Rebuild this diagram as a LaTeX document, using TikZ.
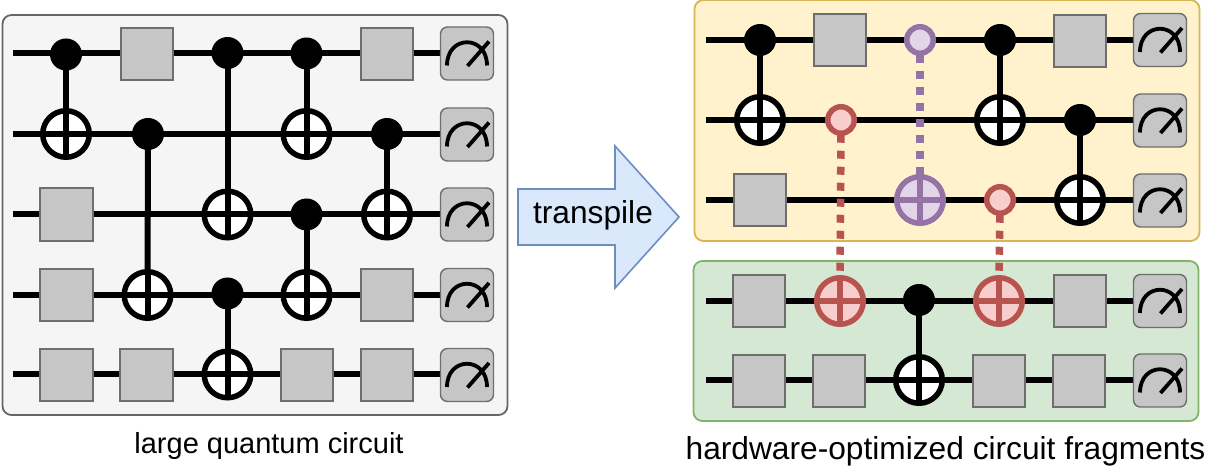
\documentclass[tikz,border=0pt]{standalone}
\usepackage{fontspec}
\setmainfont{Liberation Sans}
\definecolor{gatefill}{HTML}{C6C6C6}
\definecolor{gateline}{HTML}{6E6E6E}
\definecolor{redl}{HTML}{B85450}
\definecolor{redf}{HTML}{F8CECC}
\definecolor{purl}{HTML}{9673A6}
\definecolor{purf}{HTML}{E1D5E7}
\definecolor{yell}{HTML}{D6B656}
\definecolor{yelf}{HTML}{FFF2CC}
\definecolor{grnl}{HTML}{82B366}
\definecolor{grnf}{HTML}{D5E8D4}
\definecolor{blul}{HTML}{6C8EBF}
\definecolor{bluf}{HTML}{DAE8FC}
\definecolor{greyf}{HTML}{F5F5F5}
\definecolor{greyl}{HTML}{666666}
\pgfdeclarelayer{panels}
\pgfdeclarelayer{wires}
\pgfsetlayers{panels,wires,main}
\tikzset{
  x=1pt,y=-1pt,
  gate/.style={rectangle,draw=gateline,fill=gatefill,line width=1.7pt,minimum size=52.5pt,inner sep=0pt,outer sep=0pt},
  meas/.style={rectangle,rounded corners=7pt,draw=gateline,fill=gatefill,line width=1.4pt,minimum size=53pt,inner sep=0pt,outer sep=0pt,
    path picture={\draw[black,line width=3.8pt,shift={(path picture bounding box.center)}]
      (-20,12) .. controls (-20,-19) and (20,-19) .. (20,12) (0.5,12.5) -- (22,-12);}},
  ctrl/.style={circle,fill=black,minimum size=32pt,inner sep=0pt,outer sep=0pt},
  softctrl/.style n args={2}{circle,draw=#1,fill=#2,line width=5.5pt,minimum size=26.5pt,inner sep=0pt,outer sep=0pt},
  target/.style n args={2}{circle,draw=#1,fill=#2,line width=5.5pt,minimum size=46.5pt,inner sep=0pt,outer sep=0pt,
    path picture={\draw[#1,line width=6pt]
      (path picture bounding box.north) -- (path picture bounding box.south)
      (path picture bounding box.west) -- (path picture bounding box.east);}},
  xor/.style={target={black}{white}},
  wire/.style={line width=6pt,black},
  link/.style={line width=6pt,black},
  remote/.style={line width=7.5pt,#1,dash pattern=on 8pt off 8pt,dash phase=14.5pt},
  panel/.style n args={2}{rectangle,rounded corners=9pt,draw=#1,fill=#2,line width=1.8pt,inner sep=0pt,outer sep=0pt},
  caption/.style={text=black,inner sep=0pt,anchor=base}
}
\begin{document}
\begin{tikzpicture}
\useasboundingbox (0,0) rectangle (1211,470);
% ---- panels
\begin{pgfonlayer}{panels}
\node[panel={greyl}{greyf},minimum width=505pt,minimum height=400pt] (pL) at (255,215) {};
\node[panel={yell}{yelf},minimum width=505pt,minimum height=241pt] (pY) at (947,120.5) {};
\node[panel={grnl}{grnf},minimum width=505pt,minimum height=160pt] (pG) at (946,341) {};
\end{pgfonlayer}
% ---- left circuit
\coordinate (a0) at (13,53.5);
\coordinate (b0) at (13,134);
\coordinate (c0) at (13,214.5);
\coordinate (d0) at (13,295);
\coordinate (e0) at (13,374.5);
\node[ctrl] (a1) at (66,54.5) {};
\node[gate] (a2) at (147,54) {};
\node[ctrl] (a3) at (227.5,53) {};
\node[ctrl] (a4) at (306.5,53.5) {};
\node[gate] (a5) at (387,54) {};
\node[meas] (am) at (467,53.5) {};
\node[xor] (b1) at (66,134) {};
\node[ctrl] (b2) at (148,134) {};
\node[xor] (b4) at (306.5,134) {};
\node[ctrl] (b5) at (387,134) {};
\node[meas] (bm) at (467,134.5) {};
\node[gate] (c1) at (66.5,214.5) {};
\node[xor] (c3) at (227.5,214.5) {};
\node[ctrl] (c4) at (306.5,214.5) {};
\node[xor] (c5) at (387,214.5) {};
\node[meas] (cm) at (467,214.5) {};
\node[gate] (d1) at (66.5,295) {};
\node[xor] (d2) at (147.5,295) {};
\node[ctrl] (d3) at (227.5,293.5) {};
\node[xor] (d4) at (306.5,295) {};
\node[gate] (d5) at (387,295) {};
\node[meas] (dm) at (467,295) {};
\node[gate] (e1) at (66.5,375) {};
\node[gate] (e2) at (146.5,375) {};
\node[xor] (e3) at (227.5,374.5) {};
\node[gate] (e4) at (307,375) {};
\node[gate] (e5) at (387,375) {};
\node[meas] (em) at (467,375) {};
% ---- yellow fragment
\coordinate (f0) at (706,40);
\coordinate (g0) at (706,120);
\coordinate (h0) at (706,200);
\node[ctrl] (f1) at (760,40) {};
\node[gate] (f2) at (840,40) {};
\node[softctrl={purl}{purf}] (f3) at (920,40) {};
\node[ctrl] (f4) at (1000,40) {};
\node[gate] (f5) at (1080,41) {};
\node[meas] (fm) at (1160,40) {};
\node[xor] (g1) at (760,120) {};
\node[softctrl={redl}{redf}] (g2) at (841,120) {};
\node[xor] (g4) at (1000,120) {};
\node[ctrl] (g5) at (1080,120) {};
\node[meas] (gm) at (1160,120.5) {};
\node[gate] (h1) at (760,200) {};
\node[target={purl}{purf}] (h3) at (920,200) {};
\node[softctrl={redl}{redf}] (h4) at (1000,200) {};
\node[xor] (h5) at (1080,200) {};
\node[meas] (hm) at (1160,200.5) {};
% ---- green fragment
\coordinate (i0) at (706,301);
\coordinate (j0) at (706,380);
\node[gate] (i1) at (759,301) {};
\node[target={redl}{redf}] (i2) at (840,301) {};
\node[ctrl] (i3) at (919,300) {};
\node[target={redl}{redf}] (i4) at (999,301) {};
\node[gate] (i5) at (1080,301) {};
\node[meas] (im) at (1160,301) {};
\node[gate] (j1) at (759,381) {};
\node[gate] (j2) at (839,381) {};
\node[xor] (j3) at (919,380) {};
\node[gate] (j4) at (999,381) {};
\node[gate] (j5) at (1079,381) {};
\node[meas] (jm) at (1160,380.5) {};
% ---- wires and links
\begin{pgfonlayer}{wires}
\foreach \s/\e in {a0/am,b0/bm,c0/cm,d0/dm,e0/em,f0/fm,g0/gm,h0/hm,i0/im,j0/jm}
  \draw[wire] (\s) -- (\s -| \e.center);
\foreach \t/\b in {a1/b1,a3/c3,a4/b4,b2/d2,b5/c5,c4/d4,d3/e3,f1/g1,f4/g4,g5/h5,i3/j3}
  \draw[link] (\t.center) -- (\b.center);
\end{pgfonlayer}
% ---- remote gates
\draw[remote=purl] (f3.south) -- (h3.north);
\draw[remote=redl] (g2.south) -- (i2.north);
\draw[remote=redl] (h4.south) -- (i4.north);
% ---- transpile arrow
\draw[draw=blul,fill=bluf,line width=1.6pt,line join=miter]
  (518,189) -- (615,189) -- (615,146) -- (679,217) -- (615,288) -- (615,245) -- (518,245) -- cycle;
\node[caption,font=\fontsize{31.7}{36}\selectfont] (tr) at (593,224) {transpile};
% ---- captions
\node[caption,font=\fontsize{29}{33}\selectfont] (cl) at (269,453.5) {large quantum circuit};
\node[caption,font=\fontsize{31.7}{36}\selectfont] (cr) at (945.5,460) {hardware-optimized circuit fragments};
\end{tikzpicture}
\end{document}
